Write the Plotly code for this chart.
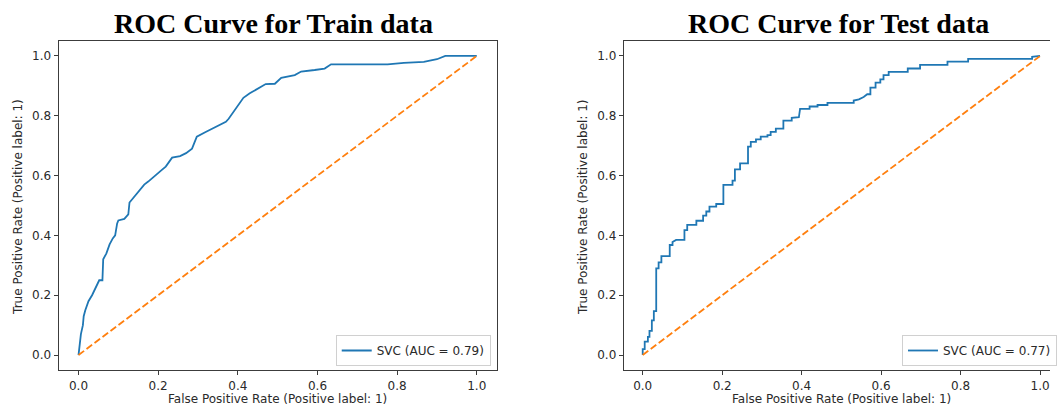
import plotly.graph_objects as go

# ---------------- data ----------------
train_fpr = [0.0, 0.003, 0.006, 0.011, 0.013, 0.017, 0.025, 0.034, 0.045, 0.052, 0.06, 0.062,
             0.07, 0.078, 0.086, 0.092, 0.097, 0.1, 0.115, 0.125, 0.128, 0.14, 0.152, 0.165,
             0.175, 0.194, 0.21, 0.219, 0.235, 0.255, 0.27, 0.285, 0.297, 0.318, 0.339, 0.356,
             0.37, 0.377, 0.393, 0.414, 0.43, 0.445, 0.47, 0.493, 0.509, 0.543, 0.559, 0.593,
             0.618, 0.634, 0.776, 0.817, 0.867, 0.9, 0.921, 1.0]
train_tpr = [0.0, 0.03, 0.07, 0.1, 0.13, 0.15, 0.18, 0.2, 0.23, 0.25, 0.25, 0.32,
             0.34, 0.37, 0.39, 0.4, 0.44, 0.45, 0.455, 0.47, 0.51, 0.53, 0.55, 0.57,
             0.58, 0.6, 0.62, 0.63, 0.66, 0.665, 0.675, 0.69, 0.73, 0.745, 0.76, 0.77,
             0.78, 0.79, 0.82, 0.86, 0.875, 0.886, 0.906, 0.907, 0.927, 0.936, 0.948, 0.953,
             0.958, 0.972, 0.972, 0.977, 0.98, 0.989, 1.0, 1.0]

test_fpr = [0.0, 0.0, 0.005, 0.005, 0.013, 0.013, 0.017, 0.017, 0.023, 0.023, 0.028, 0.028,
            0.034, 0.034, 0.04, 0.04, 0.047, 0.047, 0.068, 0.068, 0.075, 0.075, 0.084, 0.105,
            0.105, 0.112, 0.112, 0.135, 0.135, 0.152, 0.152, 0.16, 0.16, 0.168, 0.168, 0.185,
            0.185, 0.203, 0.203, 0.226, 0.226, 0.232, 0.232, 0.245, 0.245, 0.265, 0.265, 0.272,
            0.272, 0.285, 0.285, 0.297, 0.297, 0.314, 0.314, 0.322, 0.322, 0.335, 0.335, 0.354,
            0.354, 0.375, 0.375, 0.393, 0.396, 0.42, 0.42, 0.44, 0.44, 0.465, 0.465, 0.531,
            0.531, 0.544, 0.556, 0.565, 0.573, 0.573, 0.586, 0.586, 0.598, 0.598, 0.606, 0.606,
            0.619, 0.619, 0.667, 0.667, 0.698, 0.698, 0.767, 0.767, 0.819, 0.819, 0.98, 0.98, 1.0]
test_tpr = [0.0, 0.02, 0.02, 0.045, 0.045, 0.061, 0.061, 0.081, 0.081, 0.116, 0.116, 0.147,
            0.147, 0.29, 0.29, 0.31, 0.31, 0.331, 0.331, 0.368, 0.368, 0.378, 0.385, 0.385,
            0.418, 0.418, 0.435, 0.435, 0.449, 0.449, 0.466, 0.466, 0.48, 0.48, 0.496, 0.496,
            0.505, 0.505, 0.569, 0.569, 0.583, 0.583, 0.621, 0.621, 0.641, 0.641, 0.697, 0.697,
            0.713, 0.713, 0.721, 0.721, 0.73, 0.73, 0.735, 0.735, 0.746, 0.746, 0.757, 0.757,
            0.784, 0.784, 0.793, 0.795, 0.823, 0.823, 0.831, 0.831, 0.836, 0.836, 0.843, 0.843,
            0.851, 0.855, 0.863, 0.872, 0.872, 0.894, 0.894, 0.911, 0.911, 0.922, 0.922, 0.936,
            0.936, 0.947, 0.947, 0.958, 0.958, 0.97, 0.97, 0.981, 0.981, 0.99, 0.99, 0.997, 1.0]

chance_x = [0.0, 1.0]
chance_y = [0.0, 1.0]

train_label = "SVC (AUC = 0.79)"
test_label = "SVC (AUC = 0.77)"
titles = ["ROC Curve for Train data", "ROC Curve for Test data"]
x_title = "False Positive Rate (Positive label: 1)"
y_title = "True Positive Rate (Positive label: 1)"
tick_vals = [0.0, 0.2, 0.4, 0.6, 0.8, 1.0]
tick_text = ["0.0", "0.2", "0.4", "0.6", "0.8", "1.0"]

# ---------------- layout geometry ----------------
W, H = 1057, 408
BLUE = "#1f77b4"
ORANGE = "#ff7f0e"
SPINE = "#3c3c3c"
TXT = "#2a2a2a"
FONT = "DejaVu Sans"

def px_x(p):
    return p / W

def px_y(p):
    return 1 - p / H

fig = go.Figure()

fig.add_trace(go.Scatter(x=train_fpr, y=train_tpr, mode="lines", name=train_label,
                         line=dict(color=BLUE, width=1.8), xaxis="x", yaxis="y",
                         legend="legend"))
fig.add_trace(go.Scatter(x=chance_x, y=chance_y, mode="lines", showlegend=False,
                         line=dict(color=ORANGE, width=1.8, dash="7px,3px"),
                         xaxis="x", yaxis="y"))
fig.add_trace(go.Scatter(x=test_fpr, y=test_tpr, mode="lines", name=test_label,
                         line=dict(color=BLUE, width=1.8), xaxis="x2", yaxis="y2",
                         legend="legend2"))
fig.add_trace(go.Scatter(x=chance_x, y=chance_y, mode="lines", showlegend=False,
                         line=dict(color=ORANGE, width=1.8, dash="7px,3px"),
                         xaxis="x2", yaxis="y2"))

axis_common = dict(showgrid=False, zeroline=False, showline=True, linecolor=SPINE,
                   linewidth=1.2, ticks="outside", ticklen=4, tickwidth=1,
                   tickcolor=SPINE, tickfont=dict(family=FONT, size=12, color=TXT),
                   tickvals=tick_vals, ticktext=tick_text, automargin=False)

y_dom = [px_y(370), px_y(41)]

fig.update_layout(
    width=W, height=H,
    margin=dict(l=0, r=0, t=0, b=0),
    template="none",
    paper_bgcolor="white", plot_bgcolor="white",
    xaxis=dict(**axis_common, domain=[px_x(59), px_x(500)], range=[-0.05, 1.05],
               mirror=True, anchor="y"),
    yaxis=dict(**axis_common, domain=y_dom, range=[-0.05, 1.05], mirror=True, anchor="x"),
    xaxis2=dict(**axis_common, domain=[px_x(628), 1.0], range=[-0.0475, 1.025],
                mirror=True, anchor="y2"),
    yaxis2=dict(**axis_common, domain=y_dom, range=[-0.05, 1.05], mirror=False, anchor="x2"),
    legend=dict(x=px_x(494), y=px_y(366), xanchor="right", yanchor="bottom",
                bgcolor="rgba(255,255,255,0.8)", bordercolor="#d0d0d0", borderwidth=1,
                font=dict(family=FONT, size=12, color=TXT)),
    legend2=dict(x=px_x(908), y=px_y(366), xanchor="left", yanchor="bottom",
                 bgcolor="rgba(255,255,255,0.8)", bordercolor="#d0d0d0", borderwidth=1,
                 font=dict(family=FONT, size=12, color=TXT)),
    showlegend=True,
)

ann = []
# titles
for cx, t in [(275, titles[0]), (844, titles[1])]:
    ann.append(dict(text="<b>%s</b>" % t, x=px_x(cx), y=px_y(23), xref="paper", yref="paper",
                    xanchor="center", yanchor="middle", showarrow=False,
                    font=dict(family="Liberation Serif", size=28, color="black")))
# x labels
for cx in [279.5, 847]:
    ann.append(dict(text=x_title, x=px_x(cx), y=px_y(399), xref="paper", yref="paper",
                    xanchor="center", yanchor="middle", showarrow=False,
                    font=dict(family=FONT, size=12, color=TXT)))
# y labels
for cx in [18, 587]:
    ann.append(dict(text=y_title, x=px_x(cx), y=px_y(207), xref="paper", yref="paper",
                    xanchor="center", yanchor="middle", showarrow=False, textangle=-90,
                    font=dict(family=FONT, size=12, color=TXT)))
fig.update_layout(annotations=ann)

fig.write_html("out.html", config={"displayModeBar": False},
               post_script="document.body.style.margin='0';document.body.style.overflow='hidden';")
